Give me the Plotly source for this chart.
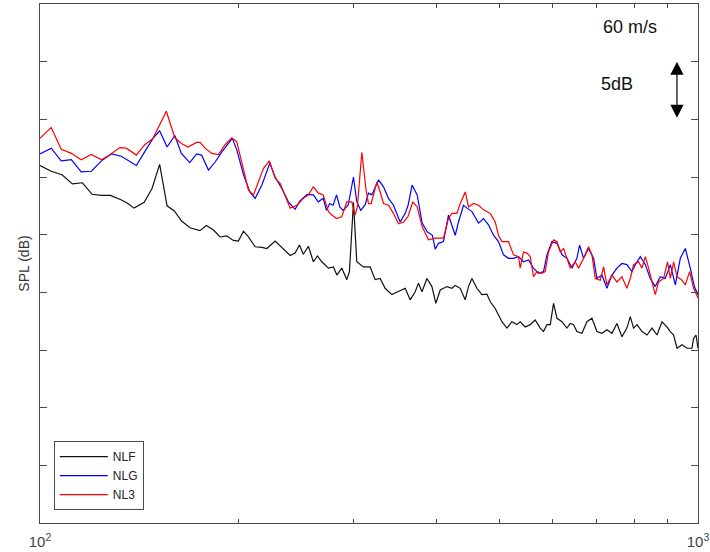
import plotly.graph_objects as go

# ---- data (frequency in Hz, SPL in dB) ----
nlf_freq = [100, 104, 108, 112, 116, 120, 124, 128, 133, 136, 139, 144, 148, 152, 156, 160, 164, 169,
            175, 179, 183.5, 187.8, 192.2, 196.7, 200.2, 203.8, 207.4, 212.3, 217.4, 221.2, 227.7,
            234.4, 240.0, 244.2, 247.9, 251.3, 255.8, 260.3, 264.0, 268.1, 274.4, 279.2, 282.6,
            287.5, 292.6, 295.3, 299.5, 303.0, 310.1, 317.5, 323.1, 328.8, 334.6, 342.6, 350.6,
            358.9, 365.2, 371.7, 376.0, 380.6, 387.3, 394.1, 399.6, 405.7, 415.3, 422.7, 427.6,
            435.1, 442.8, 447.9, 453.4, 461.3, 469.4, 477.7, 483.2, 491.8, 503.5, 512.4, 521.4,
            530.6, 536.8, 546.3, 555.9, 565.7, 575.6, 582.4, 589.4, 596.3, 603.2, 610.5, 621.3,
            632.2, 639.6, 647.0, 654.6, 666.2, 677.9, 690.0, 702.1, 714.5, 727.1, 740.0, 753.0,
            766.3, 779.8, 789.0, 798.2, 807.8, 822.0, 836.6, 851.3, 866.3, 881.6, 897.1, 907.6,
            918.2, 929.2, 945.6, 962.3, 979.2, 984.7, 993.1, 1000]
nlf_spl = [56.0, 55.5, 55.2, 54.4, 54.5, 53.5, 53.4, 53.4, 53.0, 52.7, 52.3, 52.8, 54.0, 56.1, 52.5, 52.05, 51.2, 50.6,
           50.35, 50.8, 50.4, 49.8, 49.9, 49.5, 49.45, 50.3, 49.8, 48.95, 48.9, 48.8, 49.45,
           48.8, 48.2, 48.4, 49.1, 48.3, 49.0, 47.65, 48.15, 47.65, 47.1, 47.2, 46.5,
           47.1, 46.1, 46.8, 52.8, 47.65, 47.2, 47.2, 46.1, 46.2, 45.35, 44.8, 45.05,
           45.35, 44.35, 45.05, 45.8, 45.05, 46.2, 45.5, 44.05, 45.2, 45.5, 45.35, 45.6,
           45.35, 44.35, 45.5, 46.2, 45.35, 44.8, 44.85, 44.2, 43.6, 42.45, 41.9, 42.45,
           42.2, 42.45, 42.0, 42.2, 42.6, 41.9, 41.6, 42.2, 42.2, 44.05, 42.75, 42.45,
           41.9, 42.3, 42.2, 41.6, 41.45, 42.45, 42.75, 41.6, 41.45, 41.75, 41.45, 42.3,
           41.15, 41.9, 42.9, 41.9, 42.2, 41.6, 41.3, 41.9, 41.3, 42.45, 42.0, 41.6,
           41.3, 40.15, 40.45, 40.15, 40.15, 41.0, 41.3, 40.15]

nlg_freq = [100, 104, 107.7, 111.6, 115.5, 119.7, 124, 128.4, 132.9, 140.1, 144.3, 148.5, 152, 156,
            160.3, 164, 168.9, 173, 176, 180.3, 184.6, 189.1, 196.0, 199.1, 203.8, 208.4, 212.3,
            217.4, 223.5, 227.7, 233.1, 238.5, 244.2, 248.2, 254.6, 260.3, 264.8, 269.4, 272.5,
            275.6, 278.9, 282.3, 285.5, 288.8, 294.0, 299.5, 303.0, 307.3, 312.0, 315.6, 319.4,
            326.9, 332.7, 338.5, 344.5, 352.7, 358.9, 362.6, 367.7, 374.3, 380.9, 387.7, 394.7,
            398.7, 403.3, 410.4, 417.6, 422.7, 427.6, 432.5, 440.2, 445.5, 453.4, 463.9, 472.1,
            480.4, 488.9, 497.5, 506.3, 515.2, 524.3, 533.6, 543.0, 552.6, 562.3, 572.3, 582.4,
            589.4, 599.8, 610.5, 621.3, 632.2, 643.4, 654.6, 660.7, 670.0, 681.8, 693.9, 702.1,
            714.5, 727.1, 740.0, 753.0, 766.3, 779.8, 793.7, 803.0, 817.2, 831.6, 846.2, 861.1,
            876.3, 891.7, 907.8, 923.7, 940.0, 956.6, 973.4, 987.2, 1000]
nlg_spl = [57.0, 57.5, 56.4, 56.5, 55.45, 55.5, 56.4, 57.0, 56.8, 56.0, 57.2, 58.35, 59.0, 57.6,
           58.6, 57.05, 56.25, 57.0, 56.9, 55.6, 56.3, 57.2, 58.35, 57.35, 55.2, 53.7, 53.15,
           54.3, 56.2, 55.0, 54.0, 52.85, 52.2, 52.9, 53.5, 53.45, 52.85, 53.15, 52.1,
           52.7, 52.55, 53.45, 52.4, 52.1, 52.55, 55.0, 52.85, 52.1, 52.6, 53.6, 53.45,
           54.75, 54.15, 53.15, 52.55, 51.1, 51.85, 52.55, 54.3, 53.45, 51.0, 50.25, 49.95,
           48.75, 49.25, 49.4, 51.7, 50.85, 49.95, 51.1, 52.55, 52.3, 52.0, 51.0, 51.4,
           50.85, 49.95, 49.4, 48.25, 47.95, 47.95, 48.1, 47.65, 47.8, 47.1, 46.65, 46.8,
           48.25, 49.4, 49.25, 48.25, 47.95, 47.1, 47.95, 49.1, 47.95, 48.8, 47.95, 46.2,
           46.5, 45.35, 46.5, 47.1, 47.5, 47.4, 46.8, 47.4, 48.1, 47.4, 46.2, 45.5,
           46.35, 46.2, 47.4, 45.65, 47.95, 48.8, 47.1, 45.5, 44.8]

nl3_freq = [100, 104, 107.7, 111.6, 115.5, 119.7, 124, 127.6, 132.2, 135.3, 140.1, 144.3, 148.5, 155.6,
            160.3, 164, 167.9, 172.9, 175.1, 178.2, 182.4, 186.7, 191.1, 195.7, 199.1, 202.6, 207.4,
            211.1, 214.8, 218.6, 223.2, 227.7, 231.7, 235.8, 240.0, 245.7, 251.3, 255.8, 260.3,
            264.9, 269.4, 274.4, 277.7, 282.3, 287.5, 292.6, 297.8, 301.2, 303.6, 308.4, 312.8,
            315.6, 318.6, 321.2, 325.0, 328.9, 332.7, 338.5, 344.5, 350.6, 356.8, 362.3, 368.7,
            374.3, 380.9, 389.4, 398.7, 410.4, 417.6, 422.7, 430.1, 435.2, 442.9, 448.0, 455.9,
            463.9, 472.1, 483.3, 491.8, 497.5, 503.5, 515.2, 524.3, 533.6, 536.8, 543.0, 549.5,
            555.9, 562.3, 569.1, 579.1, 585.8, 592.6, 603.2, 610.5, 617.5, 624.8, 632.2, 639.6,
            650.9, 658.4, 670.0, 681.8, 690.0, 698.0, 710.4, 718.6, 727.1, 740.0, 753.0, 766.3,
            779.8, 789.0, 798.2, 812.3, 822.0, 831.6, 841.2, 851.3, 861.1, 871.0, 886.5, 898.9,
            907.8, 918.2, 929.2, 945.6, 956.6, 971.0, 984.7, 1000]
nl3_spl = [58.35, 59.3, 57.4, 57.05, 56.5, 56.95, 56.5, 56.9, 57.55, 57.5, 56.9, 57.8, 58.35, 60.7,
           58.4, 57.9, 57.6, 58.0, 58.0, 57.5, 57.05, 56.95, 57.8, 58.4, 58.05, 56.3, 53.85,
           53.45, 54.6, 55.75, 56.4, 54.9, 54.45, 53.45, 52.3, 52.55, 53.15, 53.45, 54.15,
           53.6, 53.45, 52.0, 51.7, 51.4, 51.55, 52.85, 52.85, 51.7, 52.4, 57.15, 54.0,
           52.7, 52.7, 53.45, 54.55, 53.7, 52.7, 52.55, 51.85, 50.95, 51.1, 51.55, 52.85,
           52.4, 50.7, 49.55, 49.7, 49.7, 51.4, 51.85, 51.85, 52.7, 53.7, 52.4, 52.7,
           52.55, 52.15, 51.85, 51.1, 49.95, 49.4, 49.4, 48.25, 48.1, 47.1, 48.5, 48.4,
           48.1, 46.35, 46.8, 46.65, 46.8, 48.5, 49.55, 49.4, 48.5, 48.8, 47.95, 47.1,
           47.65, 47.1, 47.95, 48.95, 48.25, 46.2, 46.05, 47.2, 45.65, 46.5, 45.9, 46.35,
           45.35, 46.2, 47.4, 47.65, 47.1, 48.1, 47.1, 45.9, 44.8, 45.9, 46.2, 47.65,
           46.2, 47.65, 46.35, 46.05, 45.65, 46.8, 45.35, 44.5]

x_tick_vals = [100, 200, 300, 400, 500, 600, 700, 800, 900, 1000]
x_tick_text = ["10<sup>2</sup>", "", "", "", "", "", "", "", "", "10<sup>3</sup>"]

FONT = "Liberation Sans, Arial, Helvetica, sans-serif"
AX = "#4a4a4a"

fig = go.Figure()
fig.add_trace(go.Scatter(x=nlf_freq, y=nlf_spl, mode="lines", name="NLF",
                         line=dict(color="#111111", width=1.2)))
fig.add_trace(go.Scatter(x=nlg_freq, y=nlg_spl, mode="lines", name="NLG",
                         line=dict(color="#0000ff", width=1.2)))
fig.add_trace(go.Scatter(x=nl3_freq, y=nl3_spl, mode="lines", name="NL3",
                         line=dict(color="#ff0000", width=1.2)))

fig.update_layout(
    width=710, height=552,
    margin=dict(l=40, r=12, t=4, b=29),
    paper_bgcolor="white", plot_bgcolor="white",
    font=dict(family=FONT, color="#333333"),
    showlegend=True,
    legend=dict(x=0.021, y=0.025, xanchor="left", yanchor="bottom",
                bordercolor=AX, borderwidth=1, bgcolor="white", itemwidth=48,
                font=dict(size=12, color="#222222"), tracegroupgap=0),
    xaxis=dict(type="log", range=[2, 3], tickvals=x_tick_vals, ticktext=x_tick_text,
               ticks="inside", ticklen=4, tickcolor=AX, showline=True, linecolor=AX,
               linewidth=1, mirror="allticks", showgrid=False, zeroline=False,
               automargin=False, ticklabelstandoff=5,
               tickfont=dict(size=15, color="#444444")),
    yaxis=dict(range=[25, 70], dtick=5, tick0=25, ticks="inside", ticklen=7, tickcolor=AX,
               showline=True, linecolor=AX, linewidth=1, mirror="allticks",
               showgrid=False, zeroline=False, showticklabels=False, automargin=False,
               title=dict(text="SPL (dB)", font=dict(size=14, color="#333333"), standoff=6)),
)

fig.add_annotation(text="60 m/s", xref="paper", yref="paper", x=(629.5 - 40) / 658,
                   y=(523 - 27) / 519, xanchor="center", yanchor="middle", showarrow=False,
                   font=dict(size=18, color="#111111"))
fig.add_annotation(text="5dB", xref="paper", yref="paper", x=(617 - 40) / 658,
                   y=(523 - 84) / 519, xanchor="center", yanchor="middle", showarrow=False,
                   font=dict(size=18, color="#111111"))
fig.add_annotation(x=2.968, y=65, ax=2.968, ay=60, xref="x", yref="y", axref="x", ayref="y",
                   text="", showarrow=True, arrowside="end+start", arrowhead=2,
                   arrowsize=2.2, arrowwidth=1.2, arrowcolor="#000000", standoff=0, startstandoff=0)

fig.write_html("out.html", config={"displayModeBar": False},
               post_script="document.body.style.margin='0px';document.body.style.overflow='hidden';")
